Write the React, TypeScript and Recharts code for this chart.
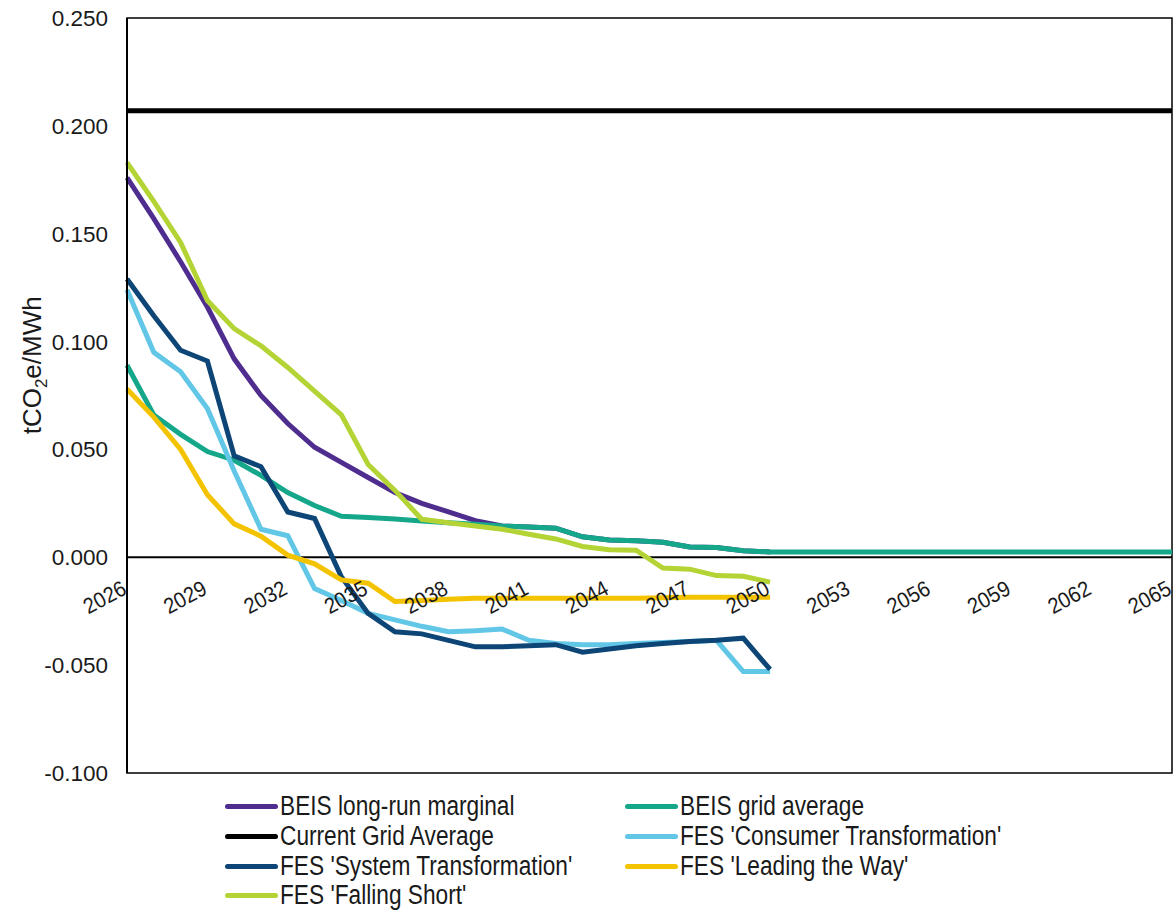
import React from "react";
import { LineChart, Line, XAxis, YAxis, ReferenceLine, ReferenceArea, Legend } from "recharts";

// carbon intensity scenarios, tCO2e/MWh
const years = [
  2026, 2027, 2028, 2029, 2030, 2031, 2032, 2033, 2034, 2035,
  2036, 2037, 2038, 2039, 2040, 2041, 2042, 2043, 2044, 2045,
  2046, 2047, 2048, 2049, 2050, 2051, 2052, 2053, 2054, 2055,
  2056, 2057, 2058, 2059, 2060, 2061, 2062, 2063, 2064, 2065,
];

const beisMarginal = [
  0.176, 0.157, 0.137, 0.116, 0.092, 0.075, 0.062, 0.051, 0.044, 0.037,
  0.030, 0.025, 0.021, 0.017, 0.0145, 0.014, 0.0135, 0.0095, 0.008, 0.0077,
  0.007, 0.0048, 0.0045, 0.003, 0.0025,
];

const beisGridAverage = [
  0.089, 0.066, 0.057, 0.049, 0.045, 0.038, 0.030, 0.024, 0.019, 0.0185,
  0.0178, 0.0168, 0.016, 0.0153, 0.0145, 0.014, 0.0135, 0.0095, 0.008, 0.0077,
  0.007, 0.0048, 0.0045, 0.003, 0.0025, 0.0025, 0.0025, 0.0025, 0.0025, 0.0025,
  0.0025, 0.0025, 0.0025, 0.0025, 0.0025, 0.0025, 0.0025, 0.0025, 0.0025, 0.0025,
];

const currentGridAverage = [
  0.207, 0.207, 0.207, 0.207, 0.207, 0.207, 0.207, 0.207, 0.207, 0.207,
  0.207, 0.207, 0.207, 0.207, 0.207, 0.207, 0.207, 0.207, 0.207, 0.207,
  0.207, 0.207, 0.207, 0.207, 0.207, 0.207, 0.207, 0.207, 0.207, 0.207,
  0.207, 0.207, 0.207, 0.207, 0.207, 0.207, 0.207, 0.207, 0.207, 0.207,
];

const consumerTransformation = [
  0.124, 0.095, 0.086, 0.069, 0.040, 0.013, 0.010, -0.0145, -0.020, -0.026,
  -0.029, -0.032, -0.0345, -0.034, -0.0333, -0.0385, -0.040, -0.0405, -0.0405, -0.040,
  -0.0395, -0.039, -0.0385, -0.053, -0.053,
];

const systemTransformation = [
  0.129, 0.112, 0.096, 0.091, 0.047, 0.042, 0.021, 0.018, -0.009, -0.026,
  -0.0345, -0.0355, -0.0385, -0.0415, -0.0415, -0.041, -0.0405, -0.044, -0.0425, -0.041,
  -0.040, -0.039, -0.0385, -0.0375, -0.052,
];

const leadingTheWay = [
  0.078, 0.065, 0.050, 0.029, 0.0155, 0.0098, 0.001, -0.003, -0.0105, -0.012,
  -0.0205, -0.020, -0.0195, -0.019, -0.019, -0.019, -0.019, -0.019, -0.019, -0.019,
  -0.0188, -0.0185, -0.0185, -0.0185, -0.0185,
];

const fallingShort = [
  0.183, 0.165, 0.146, 0.119, 0.106, 0.098, 0.088, 0.077, 0.066, 0.043,
  0.031, 0.0176, 0.016, 0.0145, 0.013, 0.0107, 0.0085, 0.005, 0.0035, 0.0033,
  -0.005, -0.0055, -0.0085, -0.0088, -0.0115,
];

const yTicks = [-0.1, -0.05, 0, 0.05, 0.1, 0.15, 0.2, 0.25];

const series = [
  { key: "marginal", name: "BEIS long-run marginal", color: "#4f2d8f", values: beisMarginal },
  { key: "gridAvg", name: "BEIS grid average", color: "#14a78a", values: beisGridAverage },
  { key: "current", name: "Current Grid Average", color: "#000000", values: currentGridAverage },
  { key: "consumer", name: "FES 'Consumer Transformation'", color: "#62c6e6", values: consumerTransformation },
  { key: "system", name: "FES 'System Transformation'", color: "#0d4676", values: systemTransformation },
  { key: "leading", name: "FES 'Leading the Way'", color: "#f4c300", values: leadingTheWay },
  { key: "falling", name: "FES 'Falling Short'", color: "#b4d335", values: fallingShort },
];

const data = years.map((year, i) => {
  const row: Record<string, number | null> = { year };
  series.forEach((s) => {
    row[s.key] = i < s.values.length ? s.values[i] : null;
  });
  return row;
});

const W = 1173;
const H = 911;
const MARGIN = { top: 18, right: 1, left: 0, bottom: 108 };
const X_AXIS_H = 30;
const Y_MIN = -0.1;
const Y_MAX = 0.25;
const PLOT_H = H - MARGIN.top - MARGIN.bottom - X_AXIS_H;
// the category labels sit on the zero line, not at the bottom of the plot
const ZERO_Y = MARGIN.top + (PLOT_H * Y_MAX) / (Y_MAX - Y_MIN);

const FONT = "'Liberation Sans', Arial, sans-serif";

const XTick = (props: any) => {
  const { x, payload } = props;
  const tx = x + 1;
  const ty = ZERO_Y + 36;
  return (
    <text
      x={0}
      y={0}
      transform={`translate(${tx}, ${ty}) rotate(-28) scale(0.92, 1)`}
      textAnchor="end"
      fontSize={22}
      fontFamily={FONT}
      fill="#1a1a1a"
    >
      {payload.value}
    </text>
  );
};

const YTitle = (props: any) => {
  const vb = props.viewBox || { x: 0, y: MARGIN.top, width: 127, height: PLOT_H };
  const cx = vb.x + 41;
  const cy = vb.y + vb.height * 0.46;
  return (
    <text
      x={cx}
      y={cy}
      transform={`rotate(-90, ${cx}, ${cy})`}
      textAnchor="middle"
      fontSize={26}
      fontFamily={FONT}
      fill="#1a1a1a"
    >
      tCO
      <tspan dy={6} fontSize={17}>2</tspan>
      <tspan dy={-6}>e/MWh</tspan>
    </text>
  );
};

const LegendBox = () => (
  <div
    style={{
      display: "grid",
      gridTemplateColumns: "400px 400px",
      fontFamily: FONT,
      fontSize: 27,
      color: "#1a1a1a",
    }}
  >
    {series.map((s) => (
      <div key={s.key} style={{ display: "flex", alignItems: "center", height: 29.7, whiteSpace: "nowrap" }}>
        <span
          style={{
            display: "inline-block",
            flex: "none",
            width: 53,
            height: 5,
            borderRadius: 3,
            background: s.color,
            marginRight: 2,
          }}
        />
        <span style={{ display: "inline-block", transform: "scaleX(0.84)", transformOrigin: "left center" }}>
          {s.name}
        </span>
      </div>
    ))}
  </div>
);

export default function App() {
  return (
    <div style={{ position: "absolute", left: 0, top: 0, width: W, height: H, background: "#fff" }}>
      <LineChart width={W} height={H} data={data} margin={MARGIN}>
        <XAxis
          dataKey="year"
          interval={2}
          height={X_AXIS_H}
          axisLine={false}
          tickLine={false}
          tick={<XTick />}
        />
        <YAxis
          type="number"
          domain={[Y_MIN, Y_MAX]}
          ticks={yTicks}
          width={127}
          tickFormatter={(v: number) => v.toFixed(3)}
          tickLine={false}
          tickSize={0}
          tickMargin={19}
          axisLine={{ stroke: "#000", strokeWidth: 2 }}
          tick={{ fontSize: 22.5, fontFamily: FONT, fill: "#1a1a1a" }}
          label={<YTitle />}
        />
        <ReferenceArea y1={Y_MIN} y2={Y_MAX} fill="none" stroke="#000" strokeWidth={1.5} />
        <ReferenceLine y={0} stroke="#000" strokeWidth={2} />
        {series.map((s) => (
          <Line
            key={s.key}
            dataKey={s.key}
            name={s.name}
            type="linear"
            stroke={s.color}
            strokeWidth={5}
            dot={false}
            activeDot={false}
            isAnimationActive={false}
          />
        ))}
        <Legend
          layout="horizontal"
          verticalAlign="middle"
          align="center"
          wrapperStyle={{ top: 792, left: 225, width: 820 }}
          content={<LegendBox />}
        />
      </LineChart>
    </div>
  );
}
